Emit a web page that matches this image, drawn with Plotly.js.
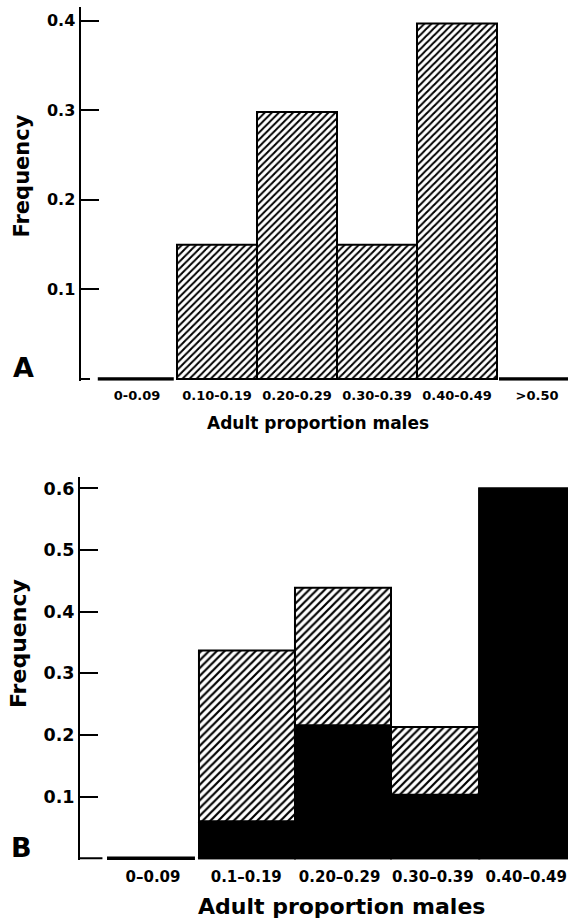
<!DOCTYPE html>
<html>
<head>
<meta charset="utf-8">
<script src="https://cdn.plot.ly/plotly-3.0.1.min.js"></script>
<style>
  html, body { margin: 0; padding: 0; background: #ffffff; }
  #chart { width: 568px; height: 921px; }
</style>
</head>
<body>
<div id="chart"></div>
<script>
// ---------- Data ----------
// Panel A
const categoriesA = ["0-0.09", "0.10-0.19", "0.20-0.29", "0.30-0.39", "0.40-0.49", ">0.50"];
const frequencyA  = [0, 0.15, 0.298, 0.15, 0.397, 0];
const yTickValsA  = [0.1, 0.2, 0.3, 0.4];
const yTickTextA  = ["0.1", "0.2", "0.3", "0.4"];

// Panel B
const categoriesB     = ["0–0.09", "0.1–0.19", "0.20–0.29", "0.30–0.39", "0.40–0.49"];
const frequencyBTotal = [0, 0.337, 0.439, 0.213, 0.600];   // hatched bar heights
const frequencyBSolid = [0, 0.060, 0.216, 0.103, 0.600];   // solid black part
const yTickValsB      = [0.1, 0.2, 0.3, 0.4, 0.5, 0.6];
const yTickTextB      = ["0.1", "0.2", "0.3", "0.4", "0.5", "0.6"];

const xTitle = "Adult proportion males";
const yTitle = "Frequency";

// ---------- Styles ----------
const FONT = "DejaVu Sans, Arial, sans-serif";
const offsetsA = [-0.49, -0.5, -0.5, -0.5, -0.5, -0.475];
const widthsA  = [0.95, 1, 1, 1, 1, 1];
const lineWA   = [3.5, 2, 2, 2, 2, 3.5];
const offsetsB = [-0.493, -0.507, -0.478, -0.449, -0.503];
const widthsB  = [0.943, 1.029, 1.029, 0.946, 1.0];
const lineWB   = [3.5, 2, 2, 2, 2];
const lineWBs  = [0, 2, 2, 2, 2];

const hatchA = { shape: "/", size: 5, solidity: 0.4, fgcolor: "#000", bgcolor: "#fff", fillmode: "replace" };
const hatchB = { shape: "/", size: 5.5, solidity: 0.4, fgcolor: "#000", bgcolor: "#fff", fillmode: "replace" };

const traces = [
  {
    type: "bar", x: categoriesA, y: frequencyA, xaxis: "x", yaxis: "y",
    offset: offsetsA, width: widthsA,
    marker: { color: "#fff", pattern: hatchA, line: { color: "#000", width: lineWA } },
    hoverinfo: "x+y", showlegend: false
  },
  {
    type: "bar", x: categoriesB, y: frequencyBTotal, xaxis: "x2", yaxis: "y2",
    offset: offsetsB, width: widthsB,
    marker: { color: "#fff", pattern: hatchB, line: { color: "#000", width: lineWB } },
    hoverinfo: "x+y", showlegend: false
  },
  {
    type: "bar", x: categoriesB, y: frequencyBSolid, xaxis: "x2", yaxis: "y2",
    offset: offsetsB, width: widthsB,
    marker: { color: "#000", line: { color: "#000", width: lineWBs } },
    hoverinfo: "x+y", showlegend: false
  }
];

const W = 568, H = 921;
const px = v => v / W;
const py = v => 1 - v / H;

const yAxisCommon = {
  showline: true, linewidth: 2, linecolor: "#000",
  ticks: "inside", ticklen: 18, tickwidth: 2, tickcolor: "#000",
  showgrid: false, zeroline: false, tickmode: "array", automargin: false,
  fixedrange: true
};
const xAxisCommon = {
  type: "category", showline: false, ticks: "", showgrid: false, zeroline: false,
  automargin: false, fixedrange: true
};

const layout = {
  width: W, height: H,
  margin: { l: 0, r: 0, t: 0, b: 0 },
  paper_bgcolor: "#fff", plot_bgcolor: "#fff",
  barmode: "overlay",
  showlegend: false,
  xaxis: Object.assign({}, xAxisCommon, {
    domain: [px(80.5), 1], range: [-0.706, 5.3875], anchor: "y",
    ticklabelstandoff: 5,
    tickfont: { family: FONT, size: 13, weight: "bold", color: "#000" }
  }),
  yaxis: Object.assign({}, yAxisCommon, {
    domain: [py(380.8), py(7)], range: [-0.002, 0.4153], anchor: "x",
    tickvals: yTickValsA, ticktext: yTickTextA,
    tickfont: { family: FONT, size: 16, weight: "bold", color: "#000" }
  }),
  xaxis2: Object.assign({}, xAxisCommon, {
    domain: [px(80), 1], range: [-0.782, 4.448], anchor: "y2",
    ticklabelstandoff: 6,
    tickfont: { family: FONT, size: 15, weight: "bold", color: "#000" }
  }),
  yaxis2: Object.assign({}, yAxisCommon, {
    domain: [py(860.15), py(476.7)], range: [-0.003, 0.619], anchor: "x2",
    tickvals: yTickValsB, ticktext: yTickTextB,
    tickfont: { family: FONT, size: 17.5, weight: "bold", color: "#000" }
  }),
  shapes: [
    { type: "line", xref: "x domain", yref: "y", x0: 0, x1: 0.0195, y0: 0, y1: 0,
      line: { color: "#000", width: 2 } },
    { type: "line", xref: "x2 domain", yref: "y2", x0: 0, x1: 0.046, y0: 0, y1: 0,
      line: { color: "#000", width: 2 } }
  ],
  annotations: [
    { text: yTitle, xref: "paper", yref: "paper", x: px(22), y: py(176.5), textangle: -90,
      showarrow: false, xanchor: "center", yanchor: "middle",
      font: { family: FONT, size: 21, weight: "bold", color: "#000" } },
    { text: yTitle, xref: "paper", yref: "paper", x: px(18), y: py(644), textangle: -90,
      showarrow: false, xanchor: "center", yanchor: "middle",
      font: { family: FONT, size: 22, weight: "bold", color: "#000" } },
    { text: xTitle, xref: "paper", yref: "paper", x: px(318), y: py(423),
      showarrow: false, xanchor: "center", yanchor: "middle",
      font: { family: FONT, size: 17, weight: "bold", color: "#000" } },
    { text: xTitle, xref: "paper", yref: "paper", x: px(341), y: py(906),
      showarrow: false, xanchor: "center", yanchor: "middle",
      font: { family: FONT, size: 22, weight: "bold", color: "#000" } },
    { text: "A", xref: "paper", yref: "paper", x: px(23), y: py(367.5),
      showarrow: false, xanchor: "center", yanchor: "middle",
      font: { family: FONT, size: 27, weight: "bold", color: "#000" } },
    { text: "B", xref: "paper", yref: "paper", x: px(21.5), y: py(847),
      showarrow: false, xanchor: "center", yanchor: "middle",
      font: { family: FONT, size: 27, weight: "bold", color: "#000" } }
  ]
};

Plotly.newPlot("chart", traces, layout, { displayModeBar: false, staticPlot: true });
</script>
</body>
</html>
